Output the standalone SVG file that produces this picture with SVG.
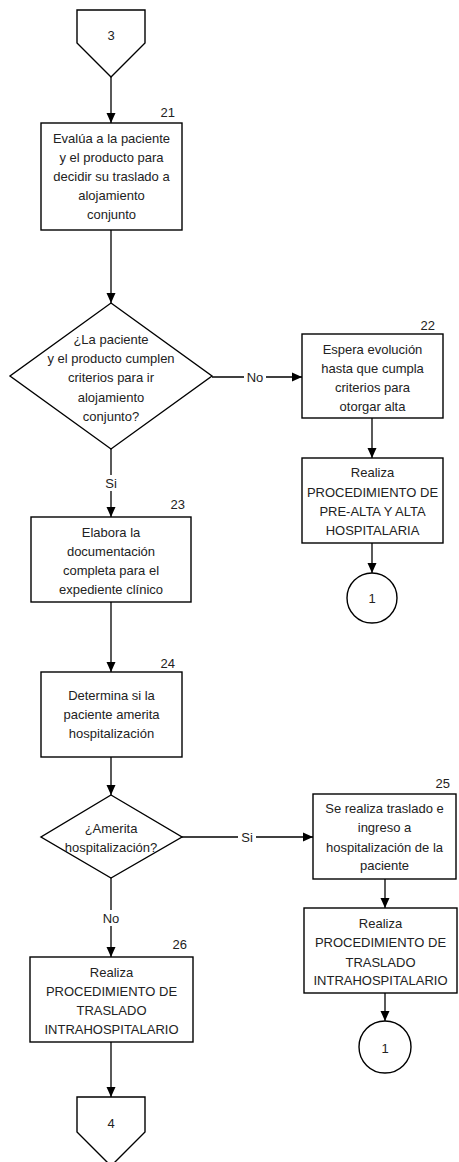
<svg xmlns="http://www.w3.org/2000/svg" width="459" height="1162" viewBox="0 0 459 1162">
<defs>
<style>
.s{fill:#fff;stroke:#000;stroke-width:1.4}
.t{font-family:"Liberation Sans",Arial,sans-serif;font-size:13px;fill:#222;text-anchor:middle;dominant-baseline:central}
.n{font-family:"Liberation Sans",Arial,sans-serif;font-size:13px;fill:#222;text-anchor:end;dominant-baseline:central}
.c{stroke:#000;stroke-width:1.3;fill:none;marker-end:url(#ah)}
.lb{fill:#fff}
</style>
<marker id="ah" viewBox="0 0 10 10" refX="10" refY="5" markerWidth="10" markerHeight="10" markerUnits="userSpaceOnUse" orient="auto">
<path d="M0,0.5 L10,5 L0,9.5 Z" fill="#000"/>
</marker>
</defs>
<rect width="459" height="1162" fill="#fff"/>
<g id="connectors">
<line class="c" x1="111" y1="77" x2="111" y2="123"/>
<line class="c" x1="111" y1="230" x2="111" y2="303"/>
<line class="c" x1="212" y1="377" x2="302" y2="377"/>
<line class="c" x1="111" y1="449" x2="111" y2="517"/>
<line class="c" x1="372" y1="418" x2="372" y2="458"/>
<line class="c" x1="372" y1="543" x2="372" y2="573"/>
<line class="c" x1="111" y1="602" x2="111" y2="672"/>
<line class="c" x1="111" y1="757" x2="111" y2="795"/>
<line class="c" x1="182" y1="837" x2="313" y2="837"/>
<line class="c" x1="111" y1="878" x2="111" y2="957"/>
<line class="c" x1="385" y1="879" x2="385" y2="908"/>
<line class="c" x1="385" y1="993" x2="385" y2="1021"/>
<line class="c" x1="111" y1="1042" x2="111" y2="1097"/>
<rect class="lb" x="244" y="369" width="22" height="16"/>
<text class="t" x="255" y="377">No</text>
<rect class="lb" x="102" y="475" width="18" height="16"/>
<text class="t" x="111" y="483">Si</text>
<rect class="lb" x="238" y="829" width="18" height="16"/>
<text class="t" x="247" y="837">Si</text>
<rect class="lb" x="100" y="910" width="22" height="16"/>
<text class="t" x="111" y="918">No</text>
</g>
<g id="off3">
<polygon class="s" points="77,10 145,10 145,43 111,77 77,43"/>
<text class="t" x="111" y="35">3</text>
</g>
<g id="n21">
<rect class="s" x="41" y="123" width="141" height="107"/>
<text class="n" x="175" y="112">21</text>
<text class="t" x="111.5" y="138">Evalúa a la paciente</text>
<text class="t" x="111.5" y="157">y el producto para</text>
<text class="t" x="111.5" y="176">decidir su traslado a</text>
<text class="t" x="111.5" y="195">alojamiento</text>
<text class="t" x="111.5" y="214">conjunto</text>
</g>
<g id="d1">
<polygon class="s" points="111,303 212,376 111,449 10,376"/>
<text class="t" x="111" y="339">¿La paciente</text>
<text class="t" x="111" y="358">y el producto cumplen</text>
<text class="t" x="111" y="377">criterios para ir</text>
<text class="t" x="111" y="397">alojamiento</text>
<text class="t" x="111" y="416">conjunto?</text>
</g>
<g id="n22">
<rect class="s" x="302" y="334" width="141" height="84"/>
<text class="n" x="435" y="325">22</text>
<text class="t" x="372.5" y="349">Espera evolución</text>
<text class="t" x="372.5" y="368">hasta que cumpla</text>
<text class="t" x="372.5" y="387">criterios para</text>
<text class="t" x="372.5" y="406">otorgar alta</text>
</g>
<g id="alta">
<rect class="s" x="302" y="458" width="141" height="85"/>
<text class="t" x="372.5" y="472">Realiza</text>
<text class="t" x="372.5" y="492">PROCEDIMIENTO DE</text>
<text class="t" x="372.5" y="511">PRE-ALTA Y ALTA</text>
<text class="t" x="372.5" y="530">HOSPITALARIA</text>
</g>
<g id="c1a">
<circle class="s" cx="372" cy="598" r="25"/>
<text class="t" x="372" y="598">1</text>
</g>
<g id="n23">
<rect class="s" x="31" y="517" width="160" height="85"/>
<text class="n" x="185" y="504">23</text>
<text class="t" x="111" y="532">Elabora la</text>
<text class="t" x="111" y="551">documentación</text>
<text class="t" x="111" y="570">completa para el</text>
<text class="t" x="111" y="589">expediente clínico</text>
</g>
<g id="n24">
<rect class="s" x="41" y="672" width="141" height="85"/>
<text class="n" x="175" y="663">24</text>
<text class="t" x="111.5" y="695">Determina si la</text>
<text class="t" x="111.5" y="714">paciente amerita</text>
<text class="t" x="111.5" y="733">hospitalización</text>
</g>
<g id="d2">
<polygon class="s" points="111,795 182,837 111,878 41,837"/>
<text class="t" x="111" y="828">¿Amerita</text>
<text class="t" x="111" y="847">hospitalización?</text>
</g>
<g id="n25">
<rect class="s" x="313" y="794" width="143" height="85"/>
<text class="n" x="450" y="783">25</text>
<text class="t" x="384.5" y="808">Se realiza traslado e</text>
<text class="t" x="384.5" y="827">ingreso a</text>
<text class="t" x="384.5" y="847">hospitalización de la</text>
<text class="t" x="384.5" y="865">paciente</text>
</g>
<g id="tras25">
<rect class="s" x="304" y="908" width="153" height="85"/>
<text class="t" x="380.5" y="923">Realiza</text>
<text class="t" x="380.5" y="942">PROCEDIMIENTO DE</text>
<text class="t" x="380.5" y="962">TRASLADO</text>
<text class="t" x="380.5" y="980">INTRAHOSPITALARIO</text>
</g>
<g id="c1b">
<circle class="s" cx="385" cy="1047" r="26"/>
<text class="t" x="385" y="1048">1</text>
</g>
<g id="n26">
<rect class="s" x="30" y="957" width="163" height="85"/>
<text class="n" x="187" y="944">26</text>
<text class="t" x="111.5" y="972">Realiza</text>
<text class="t" x="111.5" y="991">PROCEDIMIENTO DE</text>
<text class="t" x="111.5" y="1010">TRASLADO</text>
<text class="t" x="111.5" y="1029">INTRAHOSPITALARIO</text>
</g>
<g id="off4">
<polygon class="s" points="77,1097 145,1097 145,1132 111,1166 77,1132"/>
<text class="t" x="111" y="1123">4</text>
</g>
</svg>
